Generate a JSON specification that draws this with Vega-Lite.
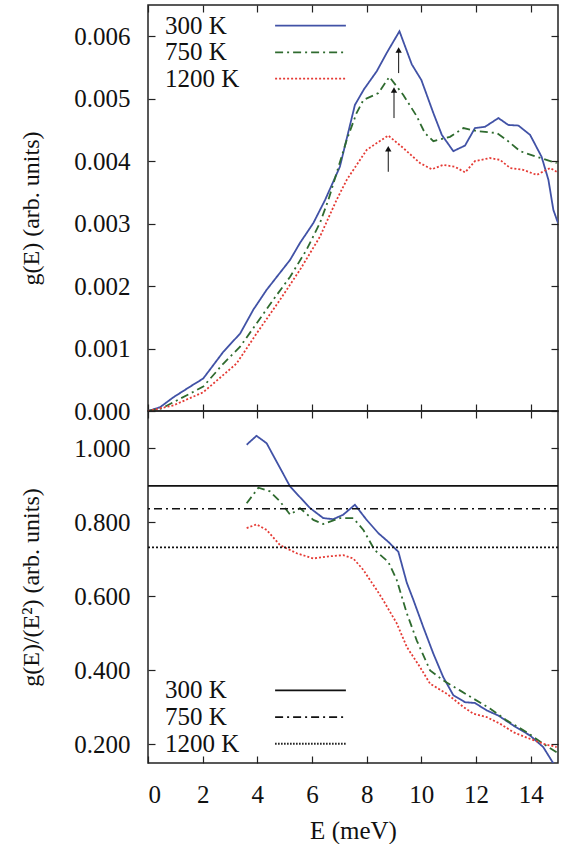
{
  "$schema": "https://vega.github.io/schema/vega-lite/v6.json",
  "padding": {"left": 19, "top": 3, "right": 6, "bottom": 0},
  "spacing": 0,
  "bounds": "flush",
  "config": {
    "font": "Liberation Serif",
    "view": {"stroke": "#222222", "strokeWidth": 1.5},
    "axis": {
      "domain": false, "grid": false, "tickSize": -7, "tickColor": "#222222", "tickWidth": 1.2, "minExtent": 0,
      "labelFont": "Liberation Serif", "labelFontSize": 25, "labelColor": "#111111",
      "titleFont": "Liberation Serif", "titleFontSize": 24, "titleFontWeight": "normal", "titleColor": "#111111"
    },
    "text": {"font": "Liberation Serif", "fontSize": 25, "align": "left", "baseline": "middle", "color": "#111111"}
  },
  "datasets": {
    "top": [
      {"T":"300 K","E":0,"g":0},{"T":"300 K","E":0.44,"g":0.00006},{"T":"300 K","E":0.93,"g":0.00022},{"T":"300 K","E":1.54,"g":0.00039},{"T":"300 K","E":2.02,"g":0.00052},{"T":"300 K","E":2.76,"g":0.00095},{"T":"300 K","E":3.37,"g":0.00124},{"T":"300 K","E":3.85,"g":0.00162},{"T":"300 K","E":4.34,"g":0.00194},{"T":"300 K","E":5.2,"g":0.00242},{"T":"300 K","E":5.56,"g":0.00269},{"T":"300 K","E":6.05,"g":0.00301},{"T":"300 K","E":6.48,"g":0.00338},{"T":"300 K","E":7.02,"g":0.00391},{"T":"300 K","E":7.57,"g":0.0049},{"T":"300 K","E":7.9,"g":0.00515},{"T":"300 K","E":8.37,"g":0.00544},{"T":"300 K","E":8.73,"g":0.00573},{"T":"300 K","E":9.2,"g":0.00608},{"T":"300 K","E":9.65,"g":0.00555},{"T":"300 K","E":10.0,"g":0.0053},{"T":"300 K","E":10.44,"g":0.00477},{"T":"300 K","E":10.75,"g":0.00442},{"T":"300 K","E":11.17,"g":0.00416},{"T":"300 K","E":11.6,"g":0.00425},{"T":"300 K","E":11.96,"g":0.00453},{"T":"300 K","E":12.33,"g":0.00455},{"T":"300 K","E":12.82,"g":0.00469},{"T":"300 K","E":13.18,"g":0.00458},{"T":"300 K","E":13.55,"g":0.00457},{"T":"300 K","E":13.98,"g":0.00442},{"T":"300 K","E":14.4,"g":0.00407},{"T":"300 K","E":14.65,"g":0.0037},{"T":"300 K","E":14.83,"g":0.00322},{"T":"300 K","E":15.0,"g":0.00301},
      {"T":"750 K","E":0,"g":0},{"T":"750 K","E":0.5,"g":0.00004},{"T":"750 K","E":0.93,"g":0.00014},{"T":"750 K","E":2.02,"g":0.00039},{"T":"750 K","E":2.76,"g":0.00076},{"T":"750 K","E":3.37,"g":0.00103},{"T":"750 K","E":3.97,"g":0.0014},{"T":"750 K","E":4.58,"g":0.00178},{"T":"750 K","E":5.2,"g":0.00215},{"T":"750 K","E":5.8,"g":0.00258},{"T":"750 K","E":6.29,"g":0.00301},{"T":"750 K","E":6.6,"g":0.00338},{"T":"750 K","E":7.27,"g":0.00434},{"T":"750 K","E":7.63,"g":0.00477},{"T":"750 K","E":7.88,"g":0.00498},{"T":"750 K","E":8.43,"g":0.00509},{"T":"750 K","E":8.83,"g":0.00535},{"T":"750 K","E":9.34,"g":0.00506},{"T":"750 K","E":9.83,"g":0.00472},{"T":"750 K","E":10.13,"g":0.00445},{"T":"750 K","E":10.44,"g":0.00432},{"T":"750 K","E":11.05,"g":0.00439},{"T":"750 K","E":11.54,"g":0.00453},{"T":"750 K","E":12.03,"g":0.00448},{"T":"750 K","E":12.76,"g":0.00445},{"T":"750 K","E":13.12,"g":0.00434},{"T":"750 K","E":13.61,"g":0.00416},{"T":"750 K","E":14.22,"g":0.00407},{"T":"750 K","E":14.95,"g":0.00397},
      {"T":"1200 K","E":0,"g":0},{"T":"1200 K","E":0.93,"g":0.00009},{"T":"1200 K","E":2.02,"g":0.0003},{"T":"1200 K","E":3.24,"g":0.00076},{"T":"1200 K","E":3.97,"g":0.00124},{"T":"1200 K","E":4.83,"g":0.00178},{"T":"1200 K","E":5.56,"g":0.00226},{"T":"1200 K","E":6.29,"g":0.00279},{"T":"1200 K","E":6.9,"g":0.00338},{"T":"1200 K","E":7.27,"g":0.0037},{"T":"1200 K","E":8.0,"g":0.00418},{"T":"1200 K","E":8.37,"g":0.00429},{"T":"1200 K","E":8.79,"g":0.00441},{"T":"1200 K","E":9.34,"g":0.00421},{"T":"1200 K","E":9.95,"g":0.00397},{"T":"1200 K","E":10.38,"g":0.00387},{"T":"1200 K","E":10.8,"g":0.00394},{"T":"1200 K","E":11.23,"g":0.00391},{"T":"1200 K","E":11.6,"g":0.00382},{"T":"1200 K","E":11.96,"g":0.004},{"T":"1200 K","E":12.51,"g":0.00405},{"T":"1200 K","E":12.88,"g":0.00402},{"T":"1200 K","E":13.25,"g":0.00389},{"T":"1200 K","E":13.73,"g":0.00386},{"T":"1200 K","E":14.22,"g":0.00378},{"T":"1200 K","E":14.71,"g":0.00389},{"T":"1200 K","E":14.95,"g":0.00383}
    ],
    "bottom": [
      {"T":"300 K","E":3.61,"r":1.009},{"T":"300 K","E":3.97,"r":1.033},{"T":"300 K","E":4.34,"r":1.013},{"T":"300 K","E":5.2,"r":0.896},{"T":"300 K","E":5.93,"r":0.838},{"T":"300 K","E":6.41,"r":0.811},{"T":"300 K","E":6.78,"r":0.808},{"T":"300 K","E":7.14,"r":0.82},{"T":"300 K","E":7.57,"r":0.847},{"T":"300 K","E":8.0,"r":0.806},{"T":"300 K","E":8.43,"r":0.77},{"T":"300 K","E":8.79,"r":0.747},{"T":"300 K","E":9.16,"r":0.72},{"T":"300 K","E":9.47,"r":0.636},{"T":"300 K","E":9.71,"r":0.59},{"T":"300 K","E":10.07,"r":0.517},{"T":"300 K","E":10.44,"r":0.445},{"T":"300 K","E":10.8,"r":0.382},{"T":"300 K","E":11.17,"r":0.333},{"T":"300 K","E":11.6,"r":0.314},{"T":"300 K","E":11.96,"r":0.312},{"T":"300 K","E":12.39,"r":0.292},{"T":"300 K","E":12.82,"r":0.278},{"T":"300 K","E":13.37,"r":0.251},{"T":"300 K","E":13.98,"r":0.224},{"T":"300 K","E":14.46,"r":0.193},{"T":"300 K","E":14.83,"r":0.149},{"T":"300 K","E":15.0,"r":0.12},
      {"T":"750 K","E":3.61,"r":0.851},{"T":"750 K","E":4.04,"r":0.893},{"T":"750 K","E":4.46,"r":0.883},{"T":"750 K","E":4.83,"r":0.856},{"T":"750 K","E":5.2,"r":0.82},{"T":"750 K","E":5.56,"r":0.838},{"T":"750 K","E":6.05,"r":0.806},{"T":"750 K","E":6.41,"r":0.795},{"T":"750 K","E":7.02,"r":0.811},{"T":"750 K","E":7.51,"r":0.811},{"T":"750 K","E":7.88,"r":0.779},{"T":"750 K","E":8.29,"r":0.725},{"T":"750 K","E":8.79,"r":0.693},{"T":"750 K","E":9.1,"r":0.644},{"T":"750 K","E":9.47,"r":0.554},{"T":"750 K","E":9.83,"r":0.481},{"T":"750 K","E":10.32,"r":0.4},{"T":"750 K","E":10.8,"r":0.373},{"T":"750 K","E":11.41,"r":0.346},{"T":"750 K","E":11.9,"r":0.324},{"T":"750 K","E":12.51,"r":0.297},{"T":"750 K","E":13.12,"r":0.265},{"T":"750 K","E":13.86,"r":0.233},{"T":"750 K","E":14.46,"r":0.202},{"T":"750 K","E":14.95,"r":0.179},
      {"T":"1200 K","E":3.61,"r":0.784},{"T":"1200 K","E":3.97,"r":0.794},{"T":"1200 K","E":4.34,"r":0.779},{"T":"1200 K","E":4.83,"r":0.738},{"T":"1200 K","E":5.44,"r":0.716},{"T":"1200 K","E":6.05,"r":0.702},{"T":"1200 K","E":6.53,"r":0.707},{"T":"1200 K","E":7.14,"r":0.711},{"T":"1200 K","E":7.51,"r":0.702},{"T":"1200 K","E":7.88,"r":0.671},{"T":"1200 K","E":8.12,"r":0.644},{"T":"1200 K","E":8.37,"r":0.617},{"T":"1200 K","E":8.6,"r":0.59},{"T":"1200 K","E":9.1,"r":0.527},{"T":"1200 K","E":9.47,"r":0.463},{"T":"1200 K","E":9.95,"r":0.409},{"T":"1200 K","E":10.32,"r":0.364},{"T":"1200 K","E":10.93,"r":0.337},{"T":"1200 K","E":11.54,"r":0.301},{"T":"1200 K","E":11.9,"r":0.283},{"T":"1200 K","E":12.39,"r":0.274},{"T":"1200 K","E":12.88,"r":0.256},{"T":"1200 K","E":13.37,"r":0.233},{"T":"1200 K","E":13.98,"r":0.215},{"T":"1200 K","E":14.46,"r":0.202},{"T":"1200 K","E":14.95,"r":0.193}
    ],
    "levels": [
      {"T":"300 K","level":0.898},{"T":"750 K","level":0.836},{"T":"1200 K","level":0.732}
    ],
    "arrows": [
      {"T":"300 K","E":9.17,"g0":0.00541,"g1":0.00578},
      {"T":"750 K","E":9.0,"g0":0.00469,"g1":0.00514},
      {"T":"1200 K","E":8.79,"g0":0.00383,"g1":0.0042}
    ],
    "one": [{}]
  },
  "vconcat": [
    {
      "width": 410, "height": 406,
      "layer": [
        {
          "data": {"name": "top"},
          "mark": {"type": "line", "strokeWidth": 1.8, "clip": true},
          "encoding": {
            "x": {"field": "E", "type": "quantitative", "scale": {"domain": [0, 15], "nice": false},
                  "axis": {"orient": "bottom", "labels": false, "title": null, "values": [0,2,4,6,8,10,12,14]}},
            "y": {"field": "g", "type": "quantitative", "scale": {"domain": [0, 0.0065], "nice": false, "zero": false},
                  "axis": {"orient": "left", "values": [0,0.001,0.002,0.003,0.004,0.005,0.006], "format": ".3f",
                           "title": "g(E) (arb. units)", "labelPadding": 25, "titlePadding": 30}},
            "color": {"field": "T", "type": "nominal",
                      "scale": {"domain": ["300 K","750 K","1200 K"], "range": ["#4152a6","#2f6b2f","#e53b35"]}, "legend": null},
            "strokeDash": {"field": "T", "type": "nominal",
                           "scale": {"domain": ["300 K","750 K","1200 K"], "range": [[1,0],[8,4,2,4],[2,2]]}, "legend": null}
          }
        },
        {
          "data": {"name": "arrows"},
          "mark": {"type": "rule", "color": "#111111", "strokeWidth": 1},
          "encoding": {
            "x": {"field": "E", "type": "quantitative", "axis": {"orient": "top", "labels": false, "title": null, "values": [0,2,4,6,8,10,12,14]}},
            "y": {"field": "g0", "type": "quantitative", "axis": {"orient": "right", "labels": false, "title": null, "values": [0,0.001,0.002,0.003,0.004,0.005,0.006]}},
            "y2": {"field": "g1"}
          }
        },
        {
          "data": {"name": "arrows"},
          "mark": {"type": "point", "shape": "triangle-up", "filled": true, "color": "#111111", "size": 40, "opacity": 1},
          "encoding": {
            "x": {"field": "E", "type": "quantitative", "axis": null},
            "y": {"field": "g1", "type": "quantitative", "axis": null}
          }
        },
        {"data": {"name": "one"}, "mark": {"type": "text", "text": "300 K"}, "encoding": {"x": {"datum": 0.62, "type": "quantitative", "axis": null}, "y": {"datum": 0.00617, "type": "quantitative", "axis": null}}},
        {"data": {"name": "one"}, "mark": {"type": "text", "text": "750 K"}, "encoding": {"x": {"datum": 0.62, "type": "quantitative", "axis": null}, "y": {"datum": 0.00574, "type": "quantitative", "axis": null}}},
        {"data": {"name": "one"}, "mark": {"type": "text", "text": "1200 K"}, "encoding": {"x": {"datum": 0.62, "type": "quantitative", "axis": null}, "y": {"datum": 0.00532, "type": "quantitative", "axis": null}}},
        {"data": {"name": "one"}, "mark": {"type": "rule", "color": "#4152a6", "strokeWidth": 1.8}, "encoding": {"x": {"datum": 4.65, "type": "quantitative", "axis": null}, "x2": {"datum": 7.24}, "y": {"datum": 0.00617, "type": "quantitative", "axis": null}}},
        {"data": {"name": "one"}, "mark": {"type": "rule", "color": "#2f6b2f", "strokeWidth": 1.8, "strokeDash": [8,4,2,4]}, "encoding": {"x": {"datum": 4.65, "type": "quantitative", "axis": null}, "x2": {"datum": 7.24}, "y": {"datum": 0.00574, "type": "quantitative", "axis": null}}},
        {"data": {"name": "one"}, "mark": {"type": "rule", "color": "#e53b35", "strokeWidth": 1.8, "strokeDash": [2,2]}, "encoding": {"x": {"datum": 4.65, "type": "quantitative", "axis": null}, "x2": {"datum": 7.24}, "y": {"datum": 0.00532, "type": "quantitative", "axis": null}}}
      ],
      "resolve": {"axis": {"x": "independent", "y": "independent"}}
    },
    {
      "width": 410, "height": 352,
      "layer": [
        {
          "data": {"name": "bottom"},
          "mark": {"type": "line", "strokeWidth": 1.8, "clip": true},
          "encoding": {
            "x": {"field": "E", "type": "quantitative", "scale": {"domain": [0, 15], "nice": false},
                  "axis": {"orient": "bottom", "title": "E (meV)", "titleFontSize": 25, "values": [0,2,4,6,8,10,12,14], "labelPadding": 26, "titlePadding": 11}},
            "y": {"field": "r", "type": "quantitative", "scale": {"domain": [0.15, 1.1], "nice": false, "zero": false},
                  "axis": {"orient": "left", "values": [0.2,0.4,0.6,0.8,1.0], "format": ".3f",
                           "title": "g(E)/(E²) (arb. units)", "labelPadding": 25, "titlePadding": 30}},
            "color": {"field": "T", "type": "nominal",
                      "scale": {"domain": ["300 K","750 K","1200 K"], "range": ["#4152a6","#2f6b2f","#e53b35"]}, "legend": null},
            "strokeDash": {"field": "T", "type": "nominal",
                           "scale": {"domain": ["300 K","750 K","1200 K"], "range": [[1,0],[8,4,2,4],[2,2]]}, "legend": null}
          }
        },
        {
          "data": {"name": "levels"},
          "mark": {"type": "rule", "color": "#111111", "strokeWidth": 1.6},
          "encoding": {
            "y": {"field": "level", "type": "quantitative", "axis": {"orient": "right", "labels": false, "title": null, "values": [0.2,0.4,0.6,0.8,1.0]}},
            "strokeDash": {"field": "T", "type": "nominal", "legend": null}
          }
        },
        {"data": {"name": "one"}, "mark": {"type": "text", "text": "300 K"}, "encoding": {"x": {"datum": 0.62, "type": "quantitative", "axis": {"orient": "top", "labels": false, "title": null, "values": [0,2,4,6,8,10,12,14]}}, "y": {"datum": 0.346, "type": "quantitative", "axis": null}}},
        {"data": {"name": "one"}, "mark": {"type": "text", "text": "750 K"}, "encoding": {"x": {"datum": 0.62, "type": "quantitative", "axis": null}, "y": {"datum": 0.274, "type": "quantitative", "axis": null}}},
        {"data": {"name": "one"}, "mark": {"type": "text", "text": "1200 K"}, "encoding": {"x": {"datum": 0.62, "type": "quantitative", "axis": null}, "y": {"datum": 0.202, "type": "quantitative", "axis": null}}},
        {"data": {"name": "one"}, "mark": {"type": "rule", "color": "#111111", "strokeWidth": 1.8}, "encoding": {"x": {"datum": 4.65, "type": "quantitative", "axis": null}, "x2": {"datum": 7.24}, "y": {"datum": 0.346, "type": "quantitative", "axis": null}}},
        {"data": {"name": "one"}, "mark": {"type": "rule", "color": "#111111", "strokeWidth": 1.8, "strokeDash": [8,4,2,4]}, "encoding": {"x": {"datum": 4.65, "type": "quantitative", "axis": null}, "x2": {"datum": 7.24}, "y": {"datum": 0.274, "type": "quantitative", "axis": null}}},
        {"data": {"name": "one"}, "mark": {"type": "rule", "color": "#111111", "strokeWidth": 1.8, "strokeDash": [1.5,1.5]}, "encoding": {"x": {"datum": 4.65, "type": "quantitative", "axis": null}, "x2": {"datum": 7.24}, "y": {"datum": 0.202, "type": "quantitative", "axis": null}}}
      ],
      "resolve": {"axis": {"x": "independent", "y": "independent"}}
    }
  ]
}
